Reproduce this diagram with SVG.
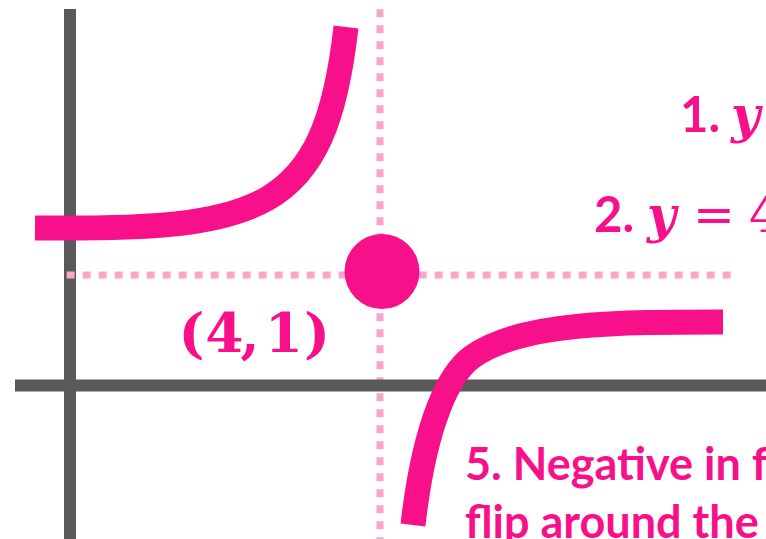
<svg xmlns="http://www.w3.org/2000/svg" width="766" height="539" viewBox="0 0 766 539">
  <style>
    .axis { stroke: #595959; stroke-width: 12; fill: none; }
    .guide { stroke: #F9A6CE; stroke-width: 7; stroke-dasharray: 8 8; fill: none; }
    .curve { stroke: #F8108A; stroke-width: 25; fill: none; stroke-linecap: butt; }
    .pink { fill: #F8108A; }
    .label { font-family: Lato, "Open Sans", sans-serif; font-weight: 700; fill: #F8108A; }
    .math { font-family: "DejaVu Serif", "Liberation Serif", serif; fill: #F8108A; }
  </style>
  <rect width="766" height="539" fill="#FFFFFF"/>
  <g id="vertical-asymptote">
    <line class="guide" x1="380" y1="9.3" x2="380" y2="539"/>
  </g>
  <g id="axes">
    <line class="axis" x1="70" y1="9" x2="70" y2="539"/>
    <line class="axis" x1="15" y1="385.5" x2="766" y2="385.5"/>
  </g>
  <g id="horizontal-asymptote">
    <line class="guide" x1="66.7" y1="275" x2="731" y2="275"/>
  </g>
  <g id="curves">
    <path class="curve" d="M35,228 C260,230 325,215 346,27"/>
    <path class="curve" d="M723,322 C620,322 520,322 472,357 C450,373 425,420 413,525"/>
  </g>
  <g id="centre-point">
    <circle class="pink" cx="382" cy="271.5" r="37.5"/>
    <text class="math" font-weight="700" font-size="55">
      <tspan x="191.5" y="352" text-anchor="middle">(</tspan><tspan x="224.5" y="352" text-anchor="middle">4</tspan><tspan x="250" y="352" text-anchor="middle">,</tspan><tspan x="284" y="352" text-anchor="middle">1</tspan><tspan x="317" y="352" text-anchor="middle">)</tspan>
    </text>
  </g>
  <g id="note-1">
    <text class="label" x="680" y="131.5" font-size="49">1.</text>
    <text class="math" x="731" y="131.5" font-size="50" font-weight="700" font-style="italic">y</text>
  </g>
  <g id="note-2">
    <text class="label" x="594" y="231.5" font-size="49">2.</text>
    <text class="math" x="647" y="231.5" font-size="50" font-weight="700" font-style="italic">y</text>
    <text class="math" x="693" y="231.5" font-size="50">=</text>
    <text class="math" x="749" y="231.5" font-size="50">4</text>
  </g>
  <g id="note-5">
    <text class="label" font-size="45"><tspan x="465" y="479.5">5. Negative in f</tspan><tspan x="465" y="537.5">flip around the</tspan></text>
  </g>
</svg>
